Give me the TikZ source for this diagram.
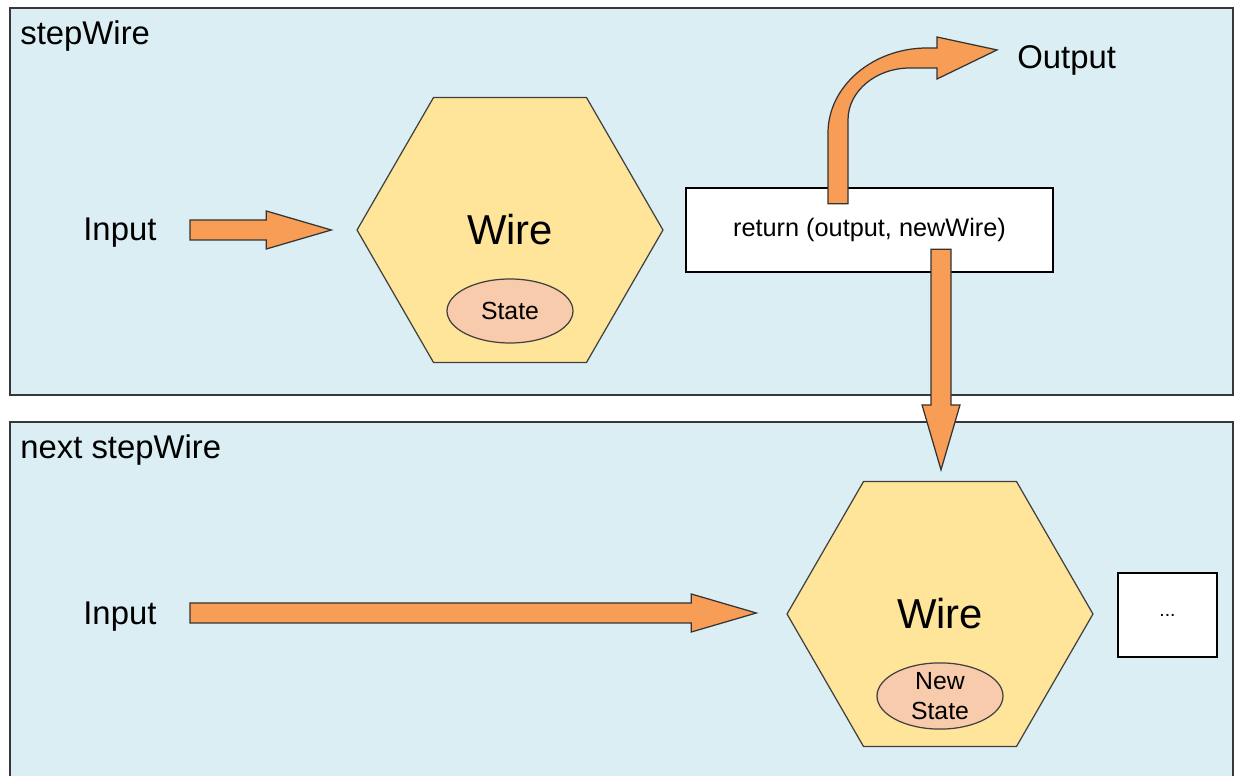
\documentclass[tikz,border=0pt]{standalone}
\usepackage{fontspec}
\setmainfont{Liberation Sans}
\usetikzlibrary{shapes.geometric,calc,positioning}

\definecolor{panelblue}{HTML}{DBEEF4}
\definecolor{wireyellow}{HTML}{FFE599}
\definecolor{statepeach}{HTML}{F8CBAD}
\definecolor{arroworange}{HTML}{F79D55}
\definecolor{panelline}{HTML}{383838}

\tikzset{
  panel/.style={draw=panelline,line width=1.4pt,fill=panelblue},
  title/.style={anchor=base west,inner sep=0pt,font=\fontsize{18.7}{22}\selectfont},
  wire/.style={regular polygon,regular polygon sides=6,minimum size=6.12cm,
    inner sep=0pt,draw=black!75,line width=0.7pt,fill=wireyellow,
    font=\fontsize{23.8}{28}\selectfont},
  state/.style={ellipse,minimum width=2.52cm,minimum height=1.28cm,inner sep=0pt,
    draw=black!75,line width=0.7pt,fill=statepeach,align=center,
    font=\fontsize{14.1}{16.8}\selectfont},
  resultbox/.style={draw=black,line width=1.4pt,fill=white,inner sep=0pt},
  blockarrow/.style={draw=black!80,line width=0.7pt,fill=arroworange,line join=miter}
}

% straight block arrow from #1 to #2
\newcommand{\blockarrow}[2]{%
  \path coordinate (ba-h) at ($(#2)!1.3cm!(#1)$);
  \draw[blockarrow] ($(#1)!0.2cm!90:(#2)$) -- ($(ba-h)!0.2cm!90:(#2)$)
    -- ($(ba-h)!0.38cm!90:(#2)$) -- (#2) -- ($(ba-h)!0.38cm!-90:(#2)$)
    -- ($(ba-h)!0.2cm!-90:(#2)$) -- ($(#1)!0.2cm!-90:(#2)$) -- cycle;}

\begin{document}
\begin{tikzpicture}[x=0.02cm,y=-0.02cm]
  \useasboundingbox (0,0) rectangle (1235,776);
  \clip (0,0) rectangle (1235,776);
  % Panels
  \draw[panel] (10,8) rectangle (1233,395);
  \draw[panel] (10,422) rectangle (1233,800);
  \node[title] (stepA) at (20,45) {stepWire};
  \node[title] (stepB) at (20,459) {next stepWire};
  % First step
  \node[title] (inputA) at (83,241) {Input};
  \node[wire] (wireA) at (510,230) {Wire};
  \node[state] (stateA) at (510,311) {State};
  \node[resultbox,minimum width=7.34cm,minimum height=1.68cm,
    font=\fontsize{14.4}{17}\selectfont] (ret) at (869.5,230) {return (output, newWire)};
  \node[title] (output) at (1017,69) {Output};
  % Next step
  \node[title] (inputB) at (83,625) {Input};
  \node[wire] (wireB) at (940,614) {Wire};
  \node[state] (stateB) at (940,696) {New\\State};
  \node[resultbox,line width=1.6pt,minimum width=1.98cm,minimum height=1.68cm,
    font=\fontsize{11}{13}\selectfont] (more) at (1167.5,615) {...};
  % Arrows
  \coordinate (inAs) at (190,230);
  \coordinate (inAe) at ($(wireA.west)+(-25,0)$);
  \blockarrow{inAs}{inAe}
  \coordinate (inBs) at (190,613);
  \coordinate (inBe) at ($(wireB.west)+(-30,-1)$);
  \blockarrow{inBs}{inBe}
  \coordinate (nextS) at ($(ret.south)+(71.5,-24)$);
  \coordinate (nextE) at ($(wireB.north)+(1,-11)$);
  \blockarrow{nextS}{nextE}
  % Curved arrow up to the output
  \coordinate (outS) at ($(ret.north)+(-31.5,17)$);
  \coordinate (outE) at ($(output.west)+(-20,-11)$);
  \draw[blockarrow] ($(outS)+(-10,0)$) -- (828,133)
    .. controls (828,86) and (873,48) .. (927,48) -- (937,48) -- (937,37)
    -- (outE) -- (937,79) -- (937,68) -- (910,68)
    .. controls (876,68) and (848,91) .. (848,120) -- ($(outS)+(10,0)$) -- cycle;
\end{tikzpicture}
\end{document}
